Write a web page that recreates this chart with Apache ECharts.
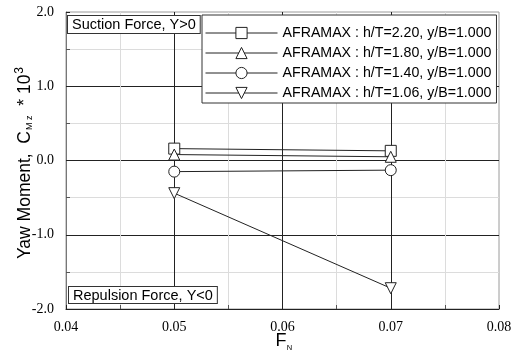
<!DOCTYPE html>
<html>
<head>
<meta charset="utf-8">
<script src="https://cdn.jsdelivr.net/npm/echarts@6/dist/echarts.min.js"></script>
<style>
  html, body { margin: 0; padding: 0; background: #fff; }
  #chart { width: 521px; height: 353px; }
</style>
</head>
<body>
<div id="chart"></div>
<script>
// Froude numbers at which the yaw moment was measured
const froude = [0.05, 0.07];

// Yaw moment coefficient C_Mz * 10^3 for each water depth ratio
const cmzH220 = [0.16, 0.13];
const cmzH180 = [0.08, 0.05];
const cmzH140 = [-0.15, -0.13];
const cmzH106 = [-0.44, -1.72];

const seriesNames = [
  'AFRAMAX : h/T=2.20, y/B=1.000',
  'AFRAMAX : h/T=1.80, y/B=1.000',
  'AFRAMAX : h/T=1.40, y/B=1.000',
  'AFRAMAX : h/T=1.06, y/B=1.000'
];

const SANS = '"Liberation Sans", Arial, sans-serif';
const SERIF = '"Liberation Serif", "Times New Roman", serif';

function pairs(ys) {
  return froude.map((x, i) => [x, ys[i]]);
}

const markerStyle = { color: '#fff', borderColor: '#222', borderWidth: 1 };
const lineStyle = { color: '#222', width: 1 };

function makeSeries(name, ys, symbol, rotate) {
  return {
    name: name,
    type: 'line',
    data: pairs(ys),
    symbol: symbol,
    symbolSize: 11,
    symbolRotate: rotate || 0,
    showAllSymbol: true,
    lineStyle: lineStyle,
    itemStyle: markerStyle,
    emphasis: { disabled: true },
    animation: false,
    z: 5
  };
}

const chart = echarts.init(document.getElementById('chart'), null, { renderer: 'canvas' });

chart.setOption({
  backgroundColor: '#fff',
  animation: false,
  grid: {
    left: 66, right: 22, top: 12, bottom: 44,
    outerBoundsMode: 'none',
    containLabel: false,
    show: true, borderColor: '#9a9a9a', borderWidth: 1, backgroundColor: 'transparent'
  },
  legend: {
    orient: 'vertical',
    left: 202, top: 15,
    padding: [11, 5, 3, 3],
    itemGap: 6,
    itemWidth: 72,
    itemHeight: 14,
    borderColor: '#333', borderWidth: 1,
    backgroundColor: '#fff',
    lineStyle: { width: 1, color: '#222' },
    itemStyle: { borderWidth: 1, borderColor: '#222', color: '#fff' },
    textStyle: { fontFamily: SANS, fontSize: 14.2, color: '#000', lineHeight: 14 },
    data: seriesNames,
    selectedMode: false,
    z: 10
  },
  xAxis: {
    type: 'value',
    min: 0.04, max: 0.08, interval: 0.01,
    axisLine: { show: true, onZero: false, lineStyle: { color: '#222', width: 1 } },
    axisTick: { show: true, inside: true, length: 4, lineStyle: { color: '#222' } },
    minorTick: { show: true, splitNumber: 2, length: 4, lineStyle: { color: '#555' } },
    axisLabel: {
      fontFamily: SERIF, fontSize: 14, color: '#000', margin: 11,
      formatter: v => v.toFixed(2)
    },
    splitLine: { show: true, showMinLine: false, showMaxLine: false, lineStyle: { color: '#222', width: 1 } },
    minorSplitLine: { show: true, lineStyle: { color: '#dcdcdc', width: 1 } }
  },
  yAxis: {
    type: 'value',
    min: -2, max: 2, interval: 1,
    axisLine: { show: true, onZero: false, lineStyle: { color: '#777', width: 1 } },
    axisTick: { show: true, inside: true, length: 4, lineStyle: { color: '#222' } },
    minorTick: { show: true, splitNumber: 2, length: 4, lineStyle: { color: '#555' } },
    axisLabel: {
      fontFamily: SERIF, fontSize: 14, color: '#000', margin: 12,
      formatter: v => v.toFixed(1)
    },
    splitLine: { show: true, showMinLine: false, showMaxLine: false, lineStyle: { color: '#222', width: 1 } },
    minorSplitLine: { show: true, lineStyle: { color: '#dcdcdc', width: 1 } }
  },
  graphic: [
    // y-axis title, rotated to read bottom-to-top
    {
      type: 'text',
      x: 25, y: 163,
      rotation: Math.PI / 2,
      z: 20,
      style: {
        text: 'Yaw Moment,  C{sub|M z}  * 10{sup|3}',
        fontFamily: SANS, fontSize: 17.5, fill: '#000',
        align: 'center', verticalAlign: 'middle',
        rich: {
          sub: { fontFamily: SANS, fontSize: 9, fill: '#000', padding: [10, 0, 0, 1] },
          sup: { fontFamily: SANS, fontSize: 12, fill: '#000', padding: [0, 0, 10, 1] }
        }
      }
    },
    // x-axis title F with subscript N
    {
      type: 'text',
      x: 281, y: 341,
      z: 20,
      style: {
        text: 'F',
        fontFamily: SANS, fontSize: 18, fill: '#000',
        align: 'center', verticalAlign: 'middle'
      }
    },
    {
      type: 'text',
      x: 289.5, y: 348,
      z: 20,
      style: {
        text: 'N',
        fontFamily: SANS, fontSize: 7.5, fill: '#000',
        align: 'center', verticalAlign: 'middle'
      }
    },
    {
      type: 'text',
      x: 68, y: 16,
      z: 20,
      style: {
        text: 'Suction Force, Y>0',
        fontFamily: SANS, fontSize: 14.5, fill: '#000',
        backgroundColor: '#fff', borderColor: '#333', borderWidth: 1,
        padding: [1, 4, 1, 4]
      }
    },
    {
      type: 'text',
      x: 69, y: 287,
      z: 20,
      style: {
        text: 'Repulsion Force, Y<0',
        fontFamily: SANS, fontSize: 14.5, fill: '#000',
        backgroundColor: '#fff', borderColor: '#333', borderWidth: 1,
        padding: [1, 4, 0, 4]
      }
    }
  ],
  series: [
    makeSeries(seriesNames[0], cmzH220, 'rect'),
    makeSeries(seriesNames[1], cmzH180, 'triangle'),
    makeSeries(seriesNames[2], cmzH140, 'circle'),
    makeSeries(seriesNames[3], cmzH106, 'triangle', 180)
  ]
});
</script>
</body>
</html>
